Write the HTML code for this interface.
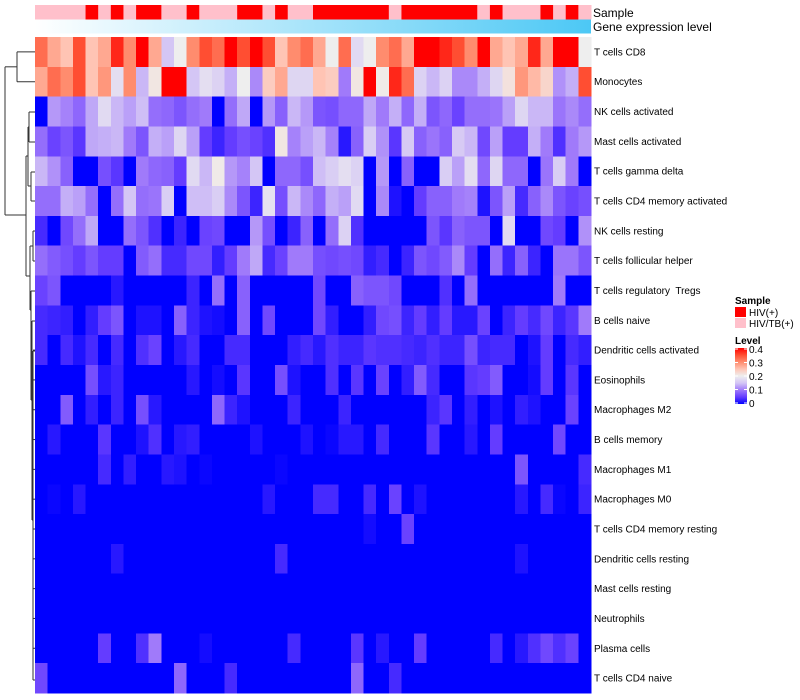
<!DOCTYPE html>
<html><head><meta charset="utf-8"><style>
html,body{margin:0;padding:0;background:#fff;}
svg{display:block;font-family:"Liberation Sans",Arial,sans-serif;}
svg text{white-space:pre;}
</style></head><body>
<svg id="chart" width="800" height="700" viewBox="0 0 800 700"></svg>
<script>
// ---- data ----
const rowLabels = ["T cells CD8","Monocytes","NK cells activated","Mast cells activated","T cells gamma delta","T cells CD4 memory activated","NK cells resting","T cells follicular helper","T cells regulatory  Tregs","B cells naive","Dendritic cells activated","Eosinophils","Macrophages M2","B cells memory","Macrophages M1","Macrophages M0","T cells CD4 memory resting","Dendritic cells resting","Mast cells resting","Neutrophils","Plasma cells","T cells CD4 naive"];
// sample group per column: 1 = HIV(+), 0 = HIV/TB(+)
const sampleGroups = [0,0,0,0,1,0,1,0,1,1,0,0,1,0,0,0,1,1,0,1,0,0,1,1,1,1,1,1,0,1,1,1,1,1,1,0,1,0,0,0,1,0,1,0];
// level values, expressed in units of 0.05 (8 = 0.4)
const r0=[6.5,5.5,5,7,5,5.5,7.5,6,8,5.5,3,4,6,7,6.5,8,7,8,7,5,6,6.5,5.5,4,6.5,3.5,4,6,6.5,5.5,8,8,7.5,7,6,8,5.5,5,5.5,7.5,5.5,8,8,4];
const r1=[5.5,6.5,6,7,5,5.8,3.6,6,2.8,4.2,8,8,3,3.6,3.3,2.7,4,2.2,4.8,5.5,3.4,3.4,5,4.8,2,4.2,8,4.1,7.5,6.5,3.3,2.8,3.3,2.2,2.2,2.7,3.4,4.3,5.8,5.2,4.6,2.3,2.7,7];
const r2=[0,2.4,2.1,1.7,2.6,3.5,2.8,2.5,2.9,1.8,1.7,1.4,1.8,2,0,1.8,2.6,0,2.4,1.6,2.8,2.4,1.4,1.3,1.7,1.7,2.6,2,2.7,1.7,2.7,1.4,1.7,1.1,1.8,1.8,1.9,2.5,3.4,2.8,2.8,1.9,2.2,1.8];
const r3=[1.8,1.1,1.4,0.9,2.6,2.7,2.8,2,1.4,2.7,2.5,3.4,2.5,1,0.6,1,1.3,1.1,0.8,4.2,2.1,2.5,2.8,2.1,0.4,1.6,3.2,2.3,0.9,3.1,1.6,1.9,1.6,3.1,2.8,1.2,2.5,1,1,2.7,2,0.8,2,2.4];
const r4=[2.8,2.3,1.6,0,0,1.3,0.9,0,2,1.7,1.6,1,3.5,2.8,4.1,2.4,2.1,3,0,1.7,1.7,1.3,2.9,3.2,3.6,3.3,0,2.4,0,1.6,0,0,3.2,2.5,3.6,1.7,3.4,1.7,1.7,0,1.9,3.2,2,0];
const r5=[1.8,1.8,2.7,2.5,1.8,0,1.8,3,1.8,1.9,3.2,0,2.9,2.9,3.2,2.2,1.4,0.6,3.7,1.3,2.8,2.2,1.7,2.7,2.5,3.5,0,2.2,0.3,0,1,1.6,1.6,2,2.1,0.3,1.4,2.5,0.7,1.6,2.2,1.4,1.1,1.3];
const r6=[0.7,0,1.2,1.8,2.6,0,0,1.8,1.4,0.8,0,0.6,0,1.1,1.2,0,0,2.4,1.3,0,0.6,1.6,0,1.8,3.3,0.8,0,0,0,0,0,1.4,0.9,1.6,1.4,1.4,0,3.5,0,0,1.2,1,0,2.3];
const r7=[1.8,1.5,1.3,1,1.4,1,1,0,1.5,1.8,0.7,0.7,1.2,1.2,0.5,1,2,2.6,0.7,1.1,2,2,1.3,1.2,1.3,1.2,0.5,0.7,0,0.6,1.4,1.2,1.5,2.2,1,0,1.8,0.6,1.6,0.6,0,1.9,1.9,1.4];
const r8=[1.1,1.4,0,0,0,0,0.4,0,0,0,0,0,0.6,0,1.8,0,1.6,0,0,0,0,0,1.2,0,0,1.6,1.4,1.4,1.2,0,0,0,0.8,0,1.8,0,0,0,0,0,0,2,0,0];
const r9=[0.7,0.6,0.5,0,0.5,1,1.4,0,0.3,0.3,0,1.6,0.6,0.3,0.2,0,1.6,0,1.2,0,0,0,1.2,0.5,0,0,0.5,1.2,1.3,0.6,1,0.5,1,0.4,0.4,1.1,0,0.6,1,0.7,1.2,0.6,0.9,2];
const r10=[0.7,0,0.7,0.3,0.7,0,0.7,0,0.8,1.1,0,0.4,0.7,0,0,0.7,0.7,0,0,0,0.5,0.7,0.4,0.8,0.6,0.6,0.9,0.8,0.8,0.7,0.6,0.8,0.6,0.6,1.3,0.6,0.7,0.7,0,0.3,1,0,0.7,0.5];
const r11=[0,0,0,0,1.3,0.4,0.6,0,0,0,0,0,0.4,0,0.2,0,0.9,0,0,1.3,0.3,0,0,0.8,0,0.9,0,1.1,0,0.5,1.5,0.7,0,0,0.9,1,1.5,0,0,0.2,1,0,0.9,0];
const r12=[0,0,1.5,0,0.5,0,0.6,0,1.3,0.4,0,0,0,0,1.7,0.6,0.3,0,0,0,0.6,0,0,0,0.6,0,0,0,0,0,0,0.6,0.9,0,0.5,0,0.3,0,0.5,0.3,0,0,1.1,0];
const r13=[0,0.4,0,0,0,0.9,0,0,0.3,0.8,0,0.4,0.5,0,0,0,0,0.3,0,0,0,0.3,0,0.1,0.4,0.4,0,0.7,0,0,0,0.9,0,0,0.4,0,1,0,0,0,0,1.2,0,0];
const r14=[0,0,0,0,0,0.7,0,0.5,0,0,0.4,0.3,0,0.1,0,0,0,0,0,0.1,0,0,0,0,0,0,0,0,0,0,0,0,0,0,0,0,0,0,1.4,0,0,0,0,0.7];
const r15=[0,0.1,0,0.4,0,0,0,0,0,0,0,0,0,0,0,0,0,0,0.4,0,0,0,0.7,0.7,0,0,0.7,0,1.1,0,0.3,0,0,0,0,0,0,0,0.4,0,0.7,0.1,0,0.6];
const r16=[0,0,0,0,0,0,0,0,0,0,0,0,0,0,0,0,0,0,0,0,0,0,0,0,0,0,0.2,0,0,1.1,0,0,0,0,0,0,0,0,0,0,0,0,0,0];
const r17=[0,0,0,0,0,0,0.4,0,0,0,0,0,0,0,0,0,0,0,0,0.7,0,0,0,0,0,0,0,0,0,0,0,0,0,0,0,0,0,0,0.3,0,0,0,0,0];
const r18=[0,0,0,0,0,0,0,0,0,0,0,0,0,0,0,0,0,0,0,0,0,0,0,0,0,0,0,0,0,0,0,0,0,0,0,0,0,0,0,0,0,0,0,0];
const r19=[0,0,0,0,0,0,0,0,0,0,0,0,0,0,0,0,0,0,0,0,0,0,0,0,0,0,0,0,0,0,0,0,0,0,0,0,0,0,0,0,0,0,0,0];
const r20=[0,0,0,0,0,1,0,0,0.8,2,0,0,0,0.2,0,0,0,0,0,0,0.7,0,0,0,0,0.9,0,0.4,0,0,1,0,0,0,0,0,0.7,0,0.4,0.8,1.2,0.8,1.1,0];
const r21=[1.2,0,0,0,0,0,0,0,0,0,0,1.7,0,0,0,0.7,0,0,0,0,0,0,0,0,0,1.7,0,0,0.7,0,0,0,0,0,0,0,0,0,0,0,0,0,0,0];
const levels=[r0,r1,r2,r3,r4,r5,r6,r7,r8,r9,r10,r11,r12,r13,r14,r15,r16,r17,r18,r19,r20,r21];
const legendTicks=["0","0.1","0.2","0.3","0.4"];
const levelUnit=0.05;

// ---- layout ----
const NS="http://www.w3.org/2000/svg";
const svg=document.getElementById('chart');
const X0=35,X1=591,Y0=37,Y1=693;
const nCol=sampleGroups.length,nRow=rowLabels.length;
const cw=(X1-X0)/nCol, rh=(Y1-Y0)/nRow;
const xPos=i=>X0+i*cw;
const yPos=j=>Y0+j*rh;
function mk(tag,attrs,parent){const e=document.createElementNS(NS,tag);for(const k in attrs)e.setAttribute(k,attrs[k]);(parent||svg).appendChild(e);return e;}
const stops=[[0,[0,0,255]],[0.05,[100,60,255]],[0.1,[160,122,250]],[0.15,[212,198,245]],[0.2,[238,238,238]],[0.25,[255,196,180]],[0.3,[255,140,110]],[0.35,[255,78,50]],[0.4,[255,0,0]]];
function color(v){v=Math.max(0,Math.min(0.4,v));for(let i=1;i<stops.length;i++){if(v<=stops[i][0]){const a=stops[i-1],b=stops[i];const t=(v-a[0])/(b[0]-a[0]);const c=a[1].map((x,k)=>Math.round(x+(b[1][k]-x)*t));return `rgb(${c[0]},${c[1]},${c[2]})`;}}return 'rgb(255,0,0)';}

// annotations
const gSample=mk('g',{});


sampleGroups.forEach((g,i)=>{const r=mk('rect',{x:xPos(i),y:5,width:cw+0.5,height:14.5,fill:g?'#ff0000':'#ffc0cb'},gSample);

});
const defs=mk('defs',{});
const lg=mk('linearGradient',{id:'gexp',x1:'0',x2:'1',y1:'0',y2:'0'},defs);
mk('stop',{offset:'0','stop-color':'#ffffff'},lg);mk('stop',{offset:'1','stop-color':'#4cc8f5'},lg);
const ge=mk('rect',{x:X0,y:19.5,width:X1-X0,height:14,fill:'url(#gexp)'});


const t1=mk('text',{x:593,y:17,'font-size':12,fill:'#000'});t1.textContent='Sample';


const t2=mk('text',{x:593,y:31,'font-size':12,fill:'#000'});t2.textContent='Gene expression level';



// heatmap cells
const gCells=mk('g',{'shape-rendering':'crispEdges'});


levels.forEach((row,j)=>{row.forEach((v,i)=>{const r=mk('rect',{x:xPos(i),y:yPos(j),width:cw+0.6,height:rh+0.6,fill:color(v*levelUnit)},gCells);

});});

// row labels
rowLabels.forEach((l,j)=>{const t=mk('text',{x:594,y:yPos(j)+rh/2+3.5,'font-size':10,fill:'#000'});t.textContent=l;

});

// dendrogram (approximate)
const gD=mk('g',{stroke:'#333','stroke-width':1,fill:'none'});


const cy=j=>yPos(j)+rh/2;
const segs=[[35,cy(0),17,cy(0)],[35,cy(1),17,cy(1)],[17,cy(0),17,cy(1)],[17,(cy(0)+cy(1))/2,5,(cy(0)+cy(1))/2],
[5,(cy(0)+cy(1))/2,5,215],[5,215,26,215],[26,156,26,276],
[26,156,28,156],[28,127,28,186],[28,127,29,127],[29,112,29,142],[29,112,35,112],[29,142,35,142],
[28,186,31,186],[31,172,31,201],[31,172,35,172],[31,201,35,201],
[26,276,30,276],[30,246,30,310],[30,246,33,246],[33,231,33,261],[33,231,35,231],[33,261,35,261],
[30,310,31,310],[31,291,31,400],[31,291,35,291],[31,400,32,400],[32,321,32,520],[32,321,35,321],[32,520,33,520],[33,351,33,680],[33,680,35,680],[33,351,35,351]];
segs.forEach(s=>mk('line',{x1:s[0],y1:s[1],x2:s[2],y2:s[3]},gD));
for(let j=10;j<21;j++){mk('line',{x1:33,y1:cy(j),x2:35,y2:cy(j)},gD);}

// legend
const gL=mk('g',{});


const ls=mk('text',{x:735,y:304,'font-size':10,'font-weight':'bold'},gL);ls.textContent='Sample';
const e1=mk('rect',{x:735,y:307,width:11,height:10,fill:'#ff0000'},gL);


const e1t=mk('text',{x:749,y:316,'font-size':10},gL);e1t.textContent='HIV(+)';
const e2=mk('rect',{x:735,y:318,width:11,height:10,fill:'#ffc0cb'},gL);


const e2t=mk('text',{x:749,y:327,'font-size':10},gL);e2t.textContent='HIV/TB(+)';
const lv=mk('text',{x:735,y:344,'font-size':10,'font-weight':'bold'},gL);lv.textContent='Level';
const lg2=mk('linearGradient',{id:'glev',x1:'0',x2:'0',y1:'1',y2:'0'},defs);
stops.forEach(s=>mk('stop',{offset:s[0]/0.4,'stop-color':`rgb(${s[1].join(',')})`},lg2));
const bar=mk('rect',{x:735,y:348,width:12,height:56,fill:'url(#glev)'},gL);


legendTicks.forEach((t,i)=>{const y=403-i*13.5;mk('line',{x1:735,x2:738,y1:y,y2:y,stroke:'#fff'},gL);mk('line',{x1:744,x2:747,y1:y,y2:y,stroke:'#fff'},gL);
const tt=mk('text',{x:749,y:y+4,'font-size':10},gL);tt.textContent=t;

});
</script>
</body></html>
